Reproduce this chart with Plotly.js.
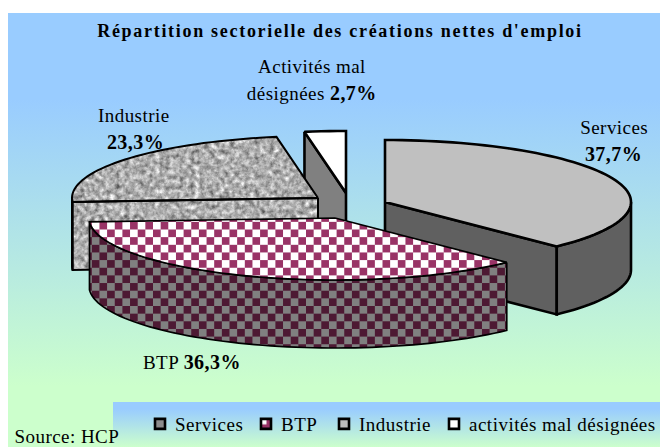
<!DOCTYPE html>
<html lang="fr">
<head>
<meta charset="utf-8">
<script src="https://cdn.plot.ly/plotly-3.0.1.min.js"></script>
<style>
html,body{margin:0;padding:0;background:#fff;}
#chart{position:absolute;left:0;top:0;width:660px;height:447px;
background:
 linear-gradient(#99CCFF 0%,#99CCFF 15%,#CCFFCC 100%) 113px 402px/547px 45px no-repeat,
 linear-gradient(#99CCFF 0%,#99CCFF 20%,#CCFFCC 86%,#CCFFCC 100%) 8px 13px/652px 434px no-repeat,
 #fff;}
#chart .gtitle{letter-spacing:1.7px;}
#chart .annotation-text{letter-spacing:.45px;}
#chart .legendtext{letter-spacing:.5px;}
</style>
</head>
<body>
<svg width="0" height="0" style="position:absolute">
 <defs>
  <pattern id="checkTop" width="15.3" height="15.3" patternUnits="userSpaceOnUse">
   <rect width="15.3" height="15.3" fill="#fff"/>
   <rect width="7.65" height="7.65" fill="#993366"/>
   <rect x="7.65" y="7.65" width="7.65" height="7.65" fill="#993366"/>
  </pattern>
  <pattern id="checkSide" width="15.3" height="15.3" patternUnits="userSpaceOnUse">
   <rect width="15.3" height="15.3" fill="#808080"/>
   <rect width="7.65" height="7.65" fill="#4D1933"/>
   <rect x="7.65" y="7.65" width="7.65" height="7.65" fill="#4D1933"/>
  </pattern>
  <pattern id="checkSwatch" width="1" height="1" patternUnits="objectBoundingBox" patternContentUnits="objectBoundingBox">
   <rect width="1" height="1" fill="#993366"/>
   <rect x=".05" y=".05" width=".5" height=".5" fill="#fff"/>
  </pattern>
  <filter id="granite" x="0" y="0" width="100%" height="100%" color-interpolation-filters="sRGB">
   <feTurbulence type="fractalNoise" baseFrequency="0.2" numOctaves="3" seed="7" result="n"/>
   <feColorMatrix in="n" type="matrix" values=".58 .58 0 0 .1  .58 .58 0 0 .1  .58 .58 0 0 .1  0 0 0 0 1" result="g"/>
   <feComposite in="g" in2="SourceGraphic" operator="in"/>
  </filter>
 </defs>
</svg>
<div id="chart"></div>
<script>
// ---- data ----
const categories = ["Services", "BTP", "Industrie", "activités mal désignées"];
const shares = [37.7, 36.3, 23.3, 2.7];

// ---- styling and geometry (chart pixels) ----
const sliceOffsets = [[385,202],[335,218],[318,198],[346,193]];
const radiusX = 246, radiusY = 62, depth = 68;
const clear = "rgba(0,0,0,0)";
const topColors  = ["#C0C0C0", "#993366", clear, "#FFFFFF"];
const sideColors = ["#606060", "#5a3a4a", clear, "#808080"];
const topFills   = [null, "url(#checkTop)", null, null];
const sideFills  = [null, "url(#checkSide)", null, null];
const stoneSlice = 2;
const lineWidths = [2.6, 1.7, 2, 2.6];
const swatchColors = ["#8c8c8c", "#993366", "#BDBDBD", "#FFFFFF"];
const swatchFills  = [null, "url(#checkSwatch)", null, null];
const legendTextX = [175, 281, 359, 469];
const drawOrder = [3, 2, 0, 1];

const point = (c, deg, drop=0) => {
  const a = deg*Math.PI/180;
  return [c[0]+radiusX*Math.sin(a), c[1]-radiusY*Math.cos(a)+drop];
};
function arc(c, a0, a1, drop=0){
  const pts=[]; const n=Math.max(2,Math.ceil(Math.abs(a1-a0)/2));
  for(let i=0;i<=n;i++) pts.push(point(c,a0+(a1-a0)*i/n,drop));
  return pts;
}
function poly(pts,color,width,name,fill){
  const closed=pts.concat([pts[0]]);
  return {type:"scatter",mode:"lines",x:closed.map(p=>p[0]),y:closed.map(p=>p[1]),
    fill:"toself",fillcolor:color,line:{color:"#000",width:width,simplify:false},
    hoverinfo:"skip",showlegend:false,name:name,meta:fill||""};
}

// start / end angle of every slice from the shares
const total = shares.reduce((a,b)=>a+b,0);
const angles=[]; let run=0;
shares.forEach(v=>{angles.push([run/total*360,(run+v)/total*360]);run+=v;});

const traces=[];
drawOrder.forEach(i=>{
  const c=sliceOffsets[i], [a0,a1]=angles[i], w=lineWidths[i], name=categories[i];
  const radial=deg=>{const p=point(c,deg);return [c,p,[p[0],p[1]+depth],[c[0],c[1]+depth]];};
  if(i===stoneSlice){
    // one textured surface under the slice's front face and top
    const p=point(c,a0);
    traces.push(poly([[p[0],p[1]+depth]].concat(arc(c,a0,a1),[c,[c[0],c[1]+depth]]),"#BDBDBD",0,name,"stone"));
  }
  if(a0>180) traces.push(poly(radial(a0),sideColors[i],w,name,sideFills[i]));
  if(a1<180) traces.push(poly(radial(a1),sideColors[i],w,name,sideFills[i]));
  const lo=Math.max(a0,90), hi=Math.min(a1,270);
  if(hi>lo) traces.push(poly(arc(c,lo,hi).concat(arc(c,hi,lo,depth)),sideColors[i],w,name,sideFills[i]));
  traces.push(poly([c].concat(arc(c,a0,a1)),topColors[i],w,name,topFills[i]));
});
categories.forEach((name,i)=>traces.push({type:"scatter",mode:"markers",x:[null],y:[null],name:name,
  marker:{symbol:"square",size:10,color:swatchColors[i],line:{color:"#000",width:2.6}},hoverinfo:"skip"}));

const pct=v=>v.toFixed(1).replace(".",",")+"%";
const boldPct=v=>'<b><span style="font-size:20px">'+pct(v)+'</span></b>';
const font="Liberation Serif, Times New Roman, serif";
const note=(x,y,text)=>({xref:"x",yref:"y",x:x,y:y,text:text,showarrow:false,
  xanchor:"center",yanchor:"middle",font:{family:font,size:19,color:"#000"}});

const layout={
  width:660,height:447,margin:{l:0,r:0,t:0,b:0},
  paper_bgcolor:"rgba(0,0,0,0)",plot_bgcolor:"rgba(0,0,0,0)",
  font:{family:font,size:19,color:"#000"},
  title:{text:"<b>Répartition sectorielle des créations nettes d'emploi</b>",
    x:340/660,xanchor:"center",y:1-31/447,yanchor:"middle",font:{family:font,size:18,color:"#000"}},
  xaxis:{visible:false,range:[0,660],fixedrange:true},
  yaxis:{visible:false,range:[447,0],fixedrange:true},
  showlegend:true,
  legend:{orientation:"h",x:0,xanchor:"left",y:1-424/447,yanchor:"middle",
    bgcolor:"rgba(0,0,0,0)",entrywidth:105,entrywidthmode:"pixels",
    font:{family:font,size:19,color:"#000"}},
  annotations:[
    note(312,66,"Activités mal"),
    note(312,93,"désignées "+boldPct(shares[3])),
    note(134,115,categories[2]),
    note(135,142,boldPct(shares[2])),
    note(614,127,categories[0]),
    note(613,154,boldPct(shares[0])),
    note(192,362,categories[1]+" "+boldPct(shares[1])),
    note(67,436,"Source: HCP")
  ]
};

Plotly.newPlot("chart",traces,layout,{displayModeBar:false,staticPlot:true}).then(gd=>{
  const groups=gd.querySelectorAll(".scatterlayer .trace");
  traces.forEach((t,i)=>{
    if(t.meta){
      const f=groups[i]&&groups[i].querySelector(".js-fill");
      if(!f) return;
      if(t.meta==="stone") f.style.filter="url(#granite)";
      else f.style.fill=t.meta;
    }
  });
  const legendGroup=gd.querySelector(".legend");
  const lm=/translate\(([^,]+),/.exec(legendGroup.getAttribute("transform")||"");
  const lx=lm?parseFloat(lm[1]):0;
  const box=gd.querySelector(".legend .scrollbox");
  if(box) box.removeAttribute("clip-path");
  gd.querySelectorAll(".legend .traces").forEach((g,i)=>{
    const m=/translate\(([^,]+),\s*([^)]+)\)/.exec(g.getAttribute("transform"));
    g.setAttribute("transform","translate("+(legendTextX[i]-40-lx)+","+(m?m[2]:0)+")");
    const sym=g.querySelector(".legendsymbols");
    if(sym) sym.setAttribute("transform","translate(5,0)");
    const pt=g.querySelector(".legendpoints path");
    if(pt&&swatchFills[i]) pt.style.fill=swatchFills[i];
  });
});
</script>
</body>
</html>
